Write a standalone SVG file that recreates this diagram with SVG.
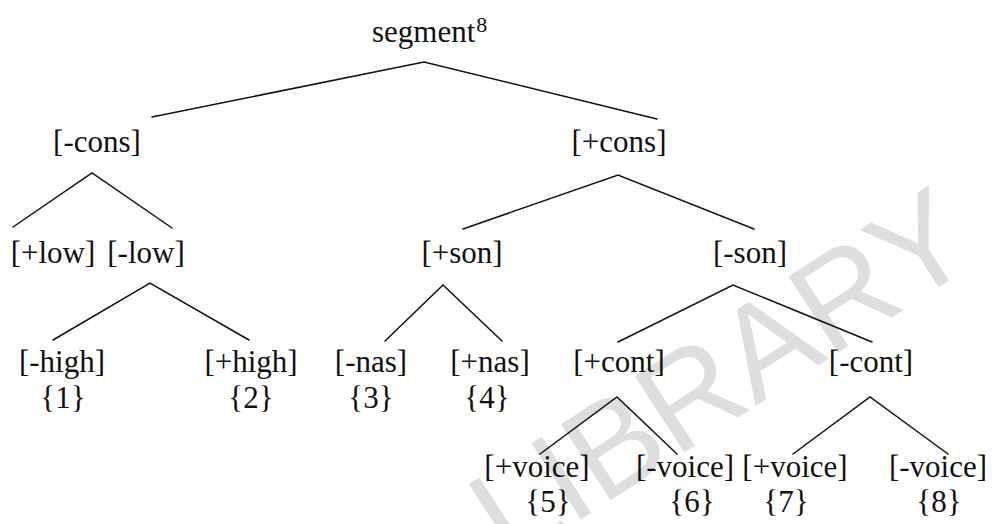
<svg xmlns="http://www.w3.org/2000/svg" width="992" height="524" viewBox="0 0 992 524">
<style>
.t{font-family:"Liberation Serif","Times New Roman",serif;font-size:31px;fill:#111;text-anchor:middle}
.sup{font-size:22px}
.e{stroke:#111;stroke-width:1.5;fill:none;stroke-linecap:round}
.wm{font-family:"Liberation Sans",Arial,sans-serif;font-size:132px;fill:#dedede;text-anchor:middle}
</style>
<rect width="992" height="524" fill="#fff"/>
<text class="wm" transform="translate(745,413) rotate(-33)">LIBRARY</text>
<g id="connectors">
<polyline class="e" points="152,117 424,62 657,119"/>
<polyline class="e" points="13,227 92,173 172,228"/>
<polyline class="e" points="463,229 618,175 754,229"/>
<polyline class="e" points="53,340 150,283 249,340"/>
<polyline class="e" points="385,341 443,285 502,341"/>
<polyline class="e" points="618,342 733,285 872,342"/>
<polyline class="e" points="540,454 617,397 677,454"/>
<polyline class="e" points="793,454 870,397 948,454"/>
</g>
<g id="segment"><text class="t" x="372" y="42" style="text-anchor:start">segment<tspan class="sup" dx="1" dy="-10">8</tspan></text></g>
<g id="minus-cons"><text class="t" x="97" y="152">[-cons]</text></g>
<g id="plus-cons"><text class="t" x="619" y="152">[+cons]</text></g>
<g id="plus-low"><text class="t" x="53" y="263">[+low]</text></g>
<g id="minus-low"><text class="t" x="146" y="263">[-low]</text></g>
<g id="plus-son"><text class="t" x="462" y="263">[+son]</text></g>
<g id="minus-son"><text class="t" x="750" y="263">[-son]</text></g>
<g id="minus-high"><text class="t" x="62" y="372">[-high]</text><text class="t" x="63" y="408">{1}</text></g>
<g id="plus-high"><text class="t" x="251" y="372">[+high]</text><text class="t" x="251" y="408">{2}</text></g>
<g id="minus-nas"><text class="t" x="371" y="372">[-nas]</text><text class="t" x="371" y="408">{3}</text></g>
<g id="plus-nas"><text class="t" x="490" y="372">[+nas]</text><text class="t" x="487" y="408">{4}</text></g>
<g id="plus-cont"><text class="t" x="619" y="372">[+cont]</text></g>
<g id="minus-cont"><text class="t" x="871" y="372">[-cont]</text></g>
<g id="plus-voice-5"><text class="t" x="537" y="477">[+voice]</text><text class="t" x="548" y="512">{5}</text></g>
<g id="minus-voice-6"><text class="t" x="685" y="477">[-voice]</text><text class="t" x="692" y="512">{6}</text></g>
<g id="plus-voice-7"><text class="t" x="795" y="477">[+voice]</text><text class="t" x="786" y="512">{7}</text></g>
<g id="minus-voice-8"><text class="t" x="938" y="477">[-voice]</text><text class="t" x="939" y="512">{8}</text></g>
</svg>
